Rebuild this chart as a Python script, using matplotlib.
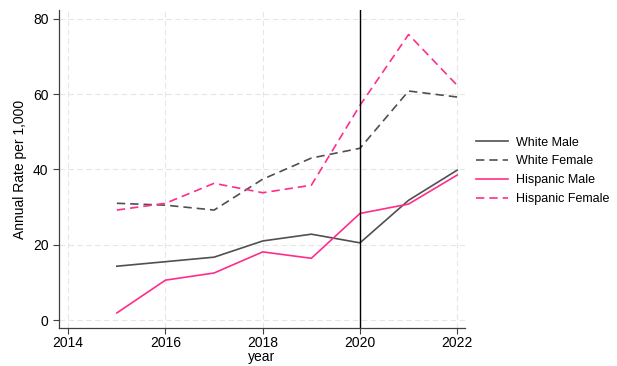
import matplotlib.pyplot as plt

plt.rcParams['font.family'] = ['Liberation Sans', 'DejaVu Sans']

# Datos
years = [2015, 2016, 2017, 2018, 2019, 2020, 2021, 2022]
white_male = [14.3, 15.5, 16.7, 21.0, 22.8, 20.5, 31.8, 39.8]
white_female = [31.0, 30.5, 29.2, 37.4, 43.0, 45.6, 60.8, 59.2]
hispanic_male = [1.9, 10.6, 12.5, 18.1, 16.4, 28.3, 30.8, 38.5]
hispanic_female = [29.2, 31.0, 36.3, 33.8, 35.8, 57.0, 75.8, 62.3]

x_ticks = [2014, 2016, 2018, 2020, 2022]
y_ticks = [0, 20, 40, 60, 80]

gray = '#505050'
pink = '#ff2d8a'

fig = plt.figure(figsize=(6.17, 3.66), dpi=100, facecolor='white')
ax = fig.add_axes([59 / 617, 1 - 328 / 366, (465 - 59) / 617, (328 - 10) / 366])

ax.plot(years, white_male, color=gray, lw=1.2, label='White Male')
ax.plot(years, white_female, color=gray, lw=1.2, ls=(0, (5, 3)), label='White Female')
ax.plot(years, hispanic_male, color=pink, lw=1.2, label='Hispanic Male')
ax.plot(years, hispanic_female, color=pink, lw=1.2, ls=(0, (5, 3)), label='Hispanic Female')
ax.axvline(2020, color='black', lw=1.0)

ax.set_xlim(2013.81, 2022.16)
ax.set_ylim(-2.1, 82.3)
ax.set_xticks(x_ticks)
ax.set_yticks(y_ticks)
ax.grid(True, color='#e6e6e6', ls=(0, (5, 3)), lw=0.8)
ax.set_axisbelow(True)

for s in ['top', 'right']:
    ax.spines[s].set_visible(False)
for s in ['left', 'bottom']:
    ax.spines[s].set_color('#404040')
    ax.spines[s].set_linewidth(0.9)
ax.tick_params(axis='both', labelsize=10, color='#404040', length=4, width=0.8)
ax.tick_params(axis='x', pad=2)
ax.set_xlabel('year', fontsize=10, labelpad=0)
ax.set_ylabel('Annual Rate per 1,000', fontsize=10)

ax.legend(loc='center left', bbox_to_anchor=((476 - 59) / 406, 0.494), frameon=False,
          fontsize=9, handlelength=2.56, handletextpad=0.64, labelspacing=0.55,
          borderpad=0, borderaxespad=0)

fig.savefig('out.png', dpi=100)
